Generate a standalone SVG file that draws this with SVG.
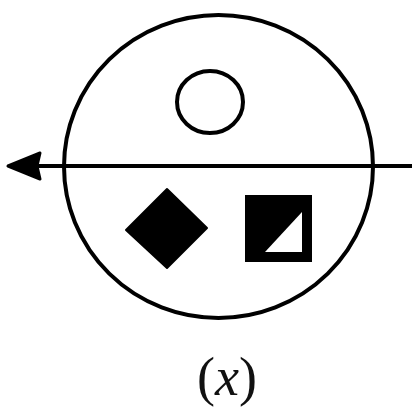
<svg xmlns="http://www.w3.org/2000/svg" width="415" height="412" viewBox="0 0 415 412">
<style>
.ln{fill:none;stroke:#000;stroke-width:4}
.lbl{font-family:"Liberation Serif",serif;font-size:54px;fill:#111}
</style>
<defs>
<marker id="ah" markerWidth="10" markerHeight="10" refX="0" refY="5" orient="auto" markerUnits="userSpaceOnUse" viewBox="0 0 10 10">
<path d="M0,5 L10,0 L10,10 Z"/>
</marker>
</defs>
<rect width="415" height="412" fill="#fff"/>
<g id="big-circle"><ellipse class="ln" cx="218.5" cy="166.5" rx="154.5" ry="151.5"/></g>
<g id="connectors">
<line class="ln" x1="412" y1="166" x2="36" y2="166"/>
<path d="M8,166 L40,153 L37,166 L40,179 Z" fill="#000" stroke="#000" stroke-width="3" stroke-linejoin="round"/>
</g>
<g id="small-circle"><ellipse class="ln" cx="210" cy="102" rx="33" ry="31" stroke-width="5"/></g>
<g id="diamond"><polygon points="167,189 207,228 167,268 126,230" fill="#000" stroke="#000" stroke-width="2" stroke-linejoin="round"/></g>
<g id="square">
<rect x="245" y="195" width="67" height="67" fill="#000"/>
<polygon points="265,252 302,212 302,252" fill="#fff"/>
</g>
<g id="label"><text class="lbl" x="227" y="395" text-anchor="middle">(<tspan font-style="italic">x</tspan>)</text></g>
</svg>
